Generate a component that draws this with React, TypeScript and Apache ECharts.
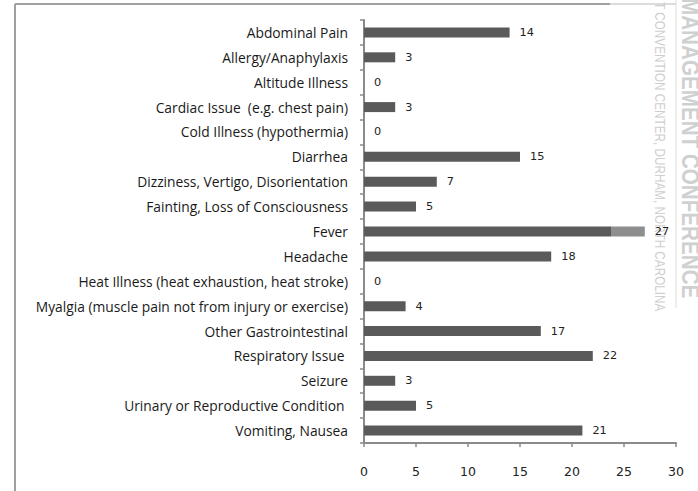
import React, { useEffect, useRef } from "react";
import * as echarts from "echarts";

const categories = [
  "Abdominal Pain",
  "Allergy/Anaphylaxis",
  "Altitude Illness",
  "Cardiac Issue  (e.g. chest pain)",
  "Cold Illness (hypothermia)",
  "Diarrhea",
  "Dizziness, Vertigo, Disorientation",
  "Fainting, Loss of Consciousness",
  "Fever",
  "Headache",
  "Heat Illness (heat exhaustion, heat stroke)",
  "Myalgia (muscle pain not from injury or exercise)",
  "Other Gastrointestinal",
  "Respiratory Issue ",
  "Seizure",
  "Urinary or Reproductive Condition ",
  "Vomiting, Nausea",
];

const counts = [14, 3, 0, 3, 0, 15, 7, 5, 27, 18, 0, 4, 17, 22, 3, 5, 21];

const xTicks = { min: 0, max: 30, interval: 5 };

const watermarkSmall = "T CONVENTION CENTER, DURHAM, NORTH CAROLINA";
const watermarkLarge = "MANAGEMENT CONFERENCE";

export default function App() {
  const ref = useRef<HTMLDivElement>(null);

  useEffect(() => {
    document.body.style.margin = "0";
    if (!ref.current) return;
    const chart = echarts.init(ref.current, undefined, { renderer: "svg" });
    const font = "Open Sans";
    const numFont = "DejaVu Sans";
    const barColor = "#5a5a5a";
    const data = counts.map((v, i) => {
      if (categories[i] === "Fever") {
        return {
          value: v,
          itemStyle: {
            color: new echarts.graphic.LinearGradient(0, 0, 1, 0, [
              { offset: 0, color: barColor },
              { offset: 0.88, color: barColor },
              { offset: 0.88, color: "#8e8e8e" },
              { offset: 1, color: "#8e8e8e" },
            ]),
          },
        };
      }
      return v;
    });
    chart.setOption({
      animation: false,
      backgroundColor: "#ffffff",
      grid: { left: 364, right: 22, top: 20, bottom: 48, containLabel: false },
      xAxis: {
        type: "value",
        min: xTicks.min,
        max: xTicks.max,
        interval: xTicks.interval,
        axisLine: { show: true, lineStyle: { color: "#8a8a8a", width: 2 } },
        axisTick: { show: true, length: 4, lineStyle: { color: "#8a8a8a", width: 1.5 } },
        axisLabel: { color: "#222", fontSize: 12.5, fontFamily: numFont, margin: 22 },
        splitLine: { show: false },
      },
      yAxis: {
        type: "category",
        inverse: true,
        data: categories,
        axisLine: { show: true, lineStyle: { color: "#8a8a8a", width: 2 } },
        axisTick: { show: true, length: 4, alignWithLabel: false, lineStyle: { color: "#8a8a8a", width: 1.5 } },
        axisLabel: { color: "#1a1a1a", fontSize: 13.8, fontFamily: font, margin: 16 },
      },
      series: [
        {
          type: "bar",
          data,
          barWidth: 10,
          itemStyle: { color: barColor },
          label: {
            show: true,
            position: "right",
            distance: 10,
            color: "#222",
            fontSize: 11.3,
            fontFamily: numFont,
          },
        },
      ],
      graphic: [
        { type: "line", shape: { x1: 15, y1: 4, x2: 15, y2: 491 }, style: { stroke: "#a0a0a0", lineWidth: 2 } },
        { type: "line", shape: { x1: 15, y1: 4, x2: 610, y2: 4 }, style: { stroke: "#a0a0a0", lineWidth: 2 } },
        { type: "line", shape: { x1: 610, y1: 4, x2: 676, y2: 4 }, style: { stroke: "#dcdcdc", lineWidth: 2 } },
        { type: "line", shape: { x1: 676, y1: 0, x2: 676, y2: 308 }, style: { stroke: "#dddddd", lineWidth: 1 } },
        {
          type: "text",
          x: 660,
          y: 2,
          rotation: -Math.PI / 2,
          scaleX: 0.84,
          style: {
            text: watermarkSmall,
            fontSize: 14,
            fontFamily: "Liberation Sans",
            fill: "#cfcfcf",
            align: "left",
            verticalAlign: "middle",
          },
        },
        {
          type: "text",
          x: 690,
          y: -2,
          rotation: -Math.PI / 2,
          scaleX: 0.86,
          style: {
            text: watermarkLarge,
            fontSize: 24,
            fontWeight: "bold",
            fontFamily: "Liberation Sans",
            fill: "#d0d0d0",
            align: "left",
            verticalAlign: "middle",
          },
        },
      ],
    });
    return () => chart.dispose();
  }, []);

  return <div ref={ref} style={{ width: 698, height: 491 }} />;
}
